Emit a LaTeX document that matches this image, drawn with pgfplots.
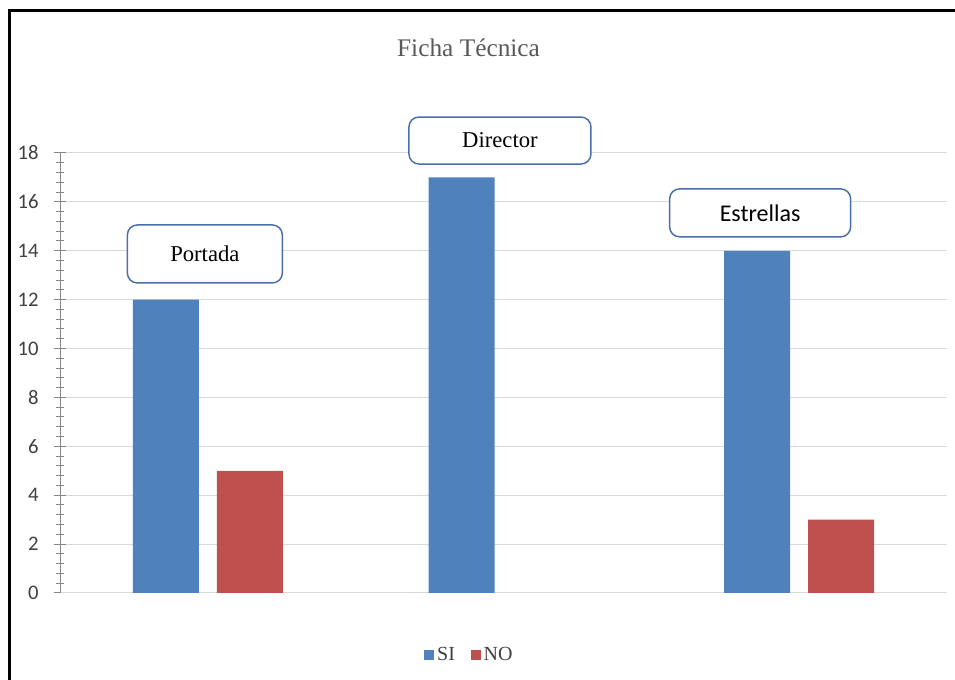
\documentclass[border=0pt]{standalone}
\usepackage{pgfplots}
\pgfplotsset{compat=1.18}
\usepackage{fontspec}
\setmainfont{Liberation Serif}
\newfontfamily\calibri{Carlito}
\definecolor{siblue}{HTML}{4F81BD}
\definecolor{nored}{HTML}{C0504D}
\definecolor{boxblue}{HTML}{4A6EA9}
\definecolor{gridgray}{HTML}{D9D9D9}
\definecolor{tickgray}{HTML}{868686}
\definecolor{titlegray}{HTML}{595959}
\definecolor{labgray}{HTML}{404040}

\begin{document}
\begin{tikzpicture}
\path[use as bounding box] (0,0) rectangle (716.25pt,510pt);
% frame of the chart area (only top and left are in the picture)
\draw[line width=2.25pt] (6.75pt,-2pt) -- (6.75pt,501.75pt) -- (720pt,501.75pt);
\node[anchor=base, text=titlegray, font=\fontsize{19}{22}\selectfont] at (351.4pt,467.25pt) {Ficha Técnica};

\begin{axis}[
    at={(45pt,65.25pt)}, anchor=south west,
    scale only axis, width=665.25pt, height=330pt,
    xmin=-0.5, xmax=2.5, ymin=0, ymax=18,
    xtick=\empty,
    ytick={0,2,...,18},
    minor y tick num=4,
    axis lines*=left,
    x axis line style={draw=gridgray, line width=0.75pt},
    y axis line style={draw=tickgray, line width=0.75pt},
    tick align=center,
    major tick length=9pt, minor tick length=6pt,
    every tick/.style={draw=tickgray, line width=0.75pt},
    ymajorgrids,
    major grid style={draw=gridgray, line width=0.75pt},
    /pgf/number format/assume math mode=true,
    yticklabel style={font=\calibri\fontsize{15.5}{18}\selectfont, text=labgray, xshift=-8pt},
    ybar=13.5pt, bar width=49.5pt,
    clip=false,
    legend style={at={(0.462,-0.141)}, anchor=center, draw=none, fill=none,
        legend columns=2, font=\fontsize{15}{18}\selectfont, text=labgray,
        /tikz/every even column/.append style={column sep=10pt}},
    legend image code/.code={\fill[#1] (0pt,-3.75pt) rectangle (7.5pt,3.75pt);},
]
\addplot[fill=siblue, draw=none] coordinates {(0,12) (1,17) (2,14)};
% zero bars are not drawn
\addplot[fill=nored, draw=none, restrict y to domain=0.001:100] coordinates {(0,5) (1,0) (2,3)};
\legend{SI, NO}

\node[draw=boxblue, line width=1.1pt, rounded corners=7.5pt, fill=white,
      minimum width=116.25pt, minimum height=43.5pt, inner sep=0pt,
      font=\fontsize{17}{20}\selectfont] at (axis cs:-0.010,13.87) {Portada};
\node[draw=boxblue, line width=1.1pt, rounded corners=7.5pt, fill=white,
      minimum width=136.5pt, minimum height=35.25pt, inner sep=0pt,
      font=\fontsize{17}{20}\selectfont] at (axis cs:0.988,18.51) {Director};
\node[draw=boxblue, line width=1.1pt, rounded corners=7.5pt, fill=white,
      minimum width=135.75pt, minimum height=36pt, inner sep=0pt,
      font=\calibri\fontsize{18}{21}\selectfont] at (axis cs:1.868,15.55) {Estrellas};
\end{axis}
\end{tikzpicture}
\end{document}
